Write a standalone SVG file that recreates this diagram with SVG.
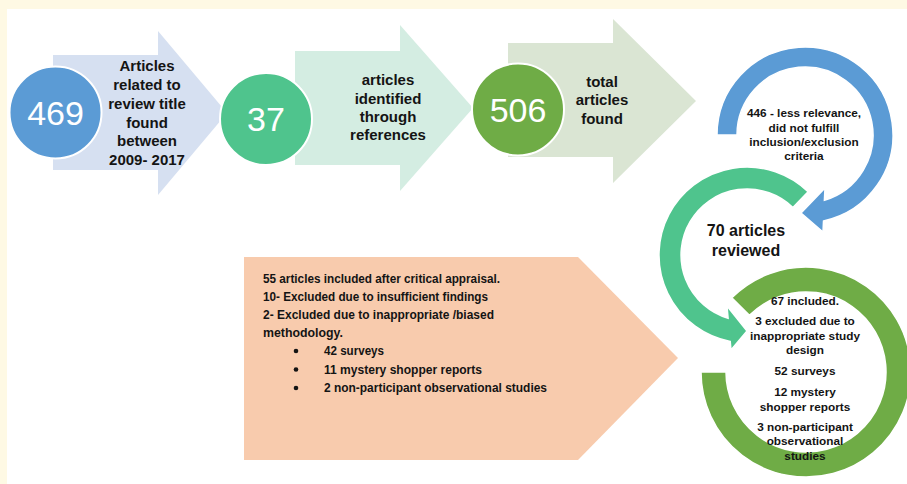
<svg xmlns="http://www.w3.org/2000/svg" width="907" height="484" viewBox="0 0 907 484">
  <style>
    .lbl { font-family: "Liberation Sans", Arial, sans-serif; font-weight: bold; fill: #141414; text-anchor: middle; }
    .big { font-size: 15px; }
    .ring { font-size: 11.8px; }
    .note { font-family: "Liberation Sans", Arial, sans-serif; font-weight: bold; fill: #141414; font-size: 12px; }
    .num { font-family: "Liberation Sans", Arial, sans-serif; font-size: 34px; fill: #ffffff; text-anchor: middle; }
    .disc { stroke: #ffffff; stroke-width: 2; }
    .curve { stroke: #ffffff; stroke-width: 1.5; stroke-linejoin: miter; }
  </style>

  <!-- page: cream margin along the top and left edges -->
  <rect x="0" y="0" width="907" height="484" fill="#fef9e4"/>
  <rect x="7" y="9" width="900" height="475" fill="#ffffff"/>

  <!-- stage 1: 469 articles -->
  <g id="stage-search">
    <polygon points="53,55 158,55 158,31 227,113 158,195 158,170 53,170" fill="#d6e0f1"/>
    <text class="lbl big" x="147" y="71">Articles</text>
    <text class="lbl big" x="147" y="89.5">related to</text>
    <text class="lbl big" x="147" y="108.5">review title</text>
    <text class="lbl big" x="147" y="127.5">found</text>
    <text class="lbl big" x="147" y="146">between</text>
    <text class="lbl big" x="147" y="165">2009- 2017</text>
  </g>

  <!-- stage 2: 37 articles -->
  <g id="stage-references">
    <polygon points="295,51 400,51 400,25 473,108 400,191 400,165 295,165" fill="#d4ede2"/>
    <text class="lbl big" x="388" y="85">articles</text>
    <text class="lbl big" x="388" y="103.5">identified</text>
    <text class="lbl big" x="388" y="122">through</text>
    <text class="lbl big" x="388" y="140">references</text>
  </g>

  <!-- stage 3: 506 articles -->
  <g id="stage-total">
    <polygon points="508,43 613,43 613,19 696,101 613,183 613,157 508,157" fill="#dae5d3"/>
    <text class="lbl big" x="602" y="87">total</text>
    <text class="lbl big" x="602" y="105">articles</text>
    <text class="lbl big" x="602" y="123.5">found</text>
  </g>

  <!-- count discs -->
  <g id="count-469">
    <circle class="disc" cx="55.5" cy="112.5" r="46" fill="#5b9bd5"/>
    <text class="num" x="55.5" y="124.5">469</text>
  </g>
  <g id="count-37">
    <circle class="disc" cx="266" cy="119" r="46" fill="#4fc48d"/>
    <text class="num" x="266" y="131">37</text>
  </g>
  <g id="count-506">
    <circle class="disc" cx="518" cy="109.5" r="46" fill="#6fac46"/>
    <text class="num" x="518" y="121.5">506</text>
  </g>

  <!-- appraisal summary -->
  <g id="appraisal">
    <polygon points="244,257 578,257 678,358 578,460 244,460" fill="#f8cbad"/>
    <text class="note" x="263" y="282.5" textLength="237" lengthAdjust="spacingAndGlyphs">55 articles included after critical appraisal.</text>
    <text class="note" x="263" y="301" textLength="225" lengthAdjust="spacingAndGlyphs">10- Excluded due to insufficient findings</text>
    <text class="note" x="263" y="319" textLength="231" lengthAdjust="spacingAndGlyphs">2- Excluded due to inappropriate /biased</text>
    <text class="note" x="263" y="337" textLength="80" lengthAdjust="spacingAndGlyphs">methodology.</text>
    <circle cx="296" cy="351" r="2.3" fill="#141414"/>
    <circle cx="296" cy="369.5" r="2.3" fill="#141414"/>
    <circle cx="296" cy="388" r="2.3" fill="#141414"/>
    <text class="note" x="324" y="355" textLength="60" lengthAdjust="spacingAndGlyphs">42 surveys</text>
    <text class="note" x="324" y="373.5" textLength="158" lengthAdjust="spacingAndGlyphs">11 mystery shopper reports</text>
    <text class="note" x="324" y="392" textLength="223" lengthAdjust="spacingAndGlyphs">2 non-participant observational studies</text>
  </g>

  <!-- circular flow arrows -->
  <g id="connectors">
    <path class="curve" fill="#5b9bd5"
          d="M717,135 A88,88 0 1 1 823.5,221 L823,232 L801,213 L825,188 L824.4,200.2 A68,68 0 1 0 737,135 Z"/>
    <path class="curve" fill="#4fc48d"
          d="M808.1,191.7 A88,88 0 1 0 730.2,341.4 L731,350 L747,331 L727,306 L728.1,318.2 A66,66 0 1 1 792.9,207.5 Z"/>
    <path class="curve" fill="#6fac46"
          d="M731.8,297.8 A105,105 0 1 1 701,372 L726,372 A80,80 0 1 0 749.4,315.4 Z"/>
  </g>

  <!-- screening result -->
  <g id="screening">
    <text class="lbl ring" x="804" y="117">446 - less relevance,</text>
    <text class="lbl ring" x="804" y="131.5">did not fulfill</text>
    <text class="lbl ring" x="804" y="145.5">inclusion/exclusion</text>
    <text class="lbl ring" x="804" y="160">criteria</text>
  </g>

  <!-- full-text review -->
  <g id="review">
    <text class="lbl" style="font-size:16px" x="746" y="236">70 articles</text>
    <text class="lbl" style="font-size:16px" x="746" y="256">reviewed</text>
  </g>

  <!-- final inclusion -->
  <g id="included">
    <text class="lbl ring" x="805" y="305">67 included.</text>
    <text class="lbl ring" x="805" y="325">3 excluded due to</text>
    <text class="lbl ring" x="805" y="339.5">inappropriate study</text>
    <text class="lbl ring" x="805" y="354">design</text>
    <text class="lbl ring" x="805" y="375">52 surveys</text>
    <text class="lbl ring" x="805" y="396">12 mystery</text>
    <text class="lbl ring" x="805" y="410.5">shopper reports</text>
    <text class="lbl ring" x="805" y="431">3 non-participant</text>
    <text class="lbl ring" x="805" y="445">observational</text>
    <text class="lbl ring" x="805" y="460">studies</text>
  </g>
</svg>
